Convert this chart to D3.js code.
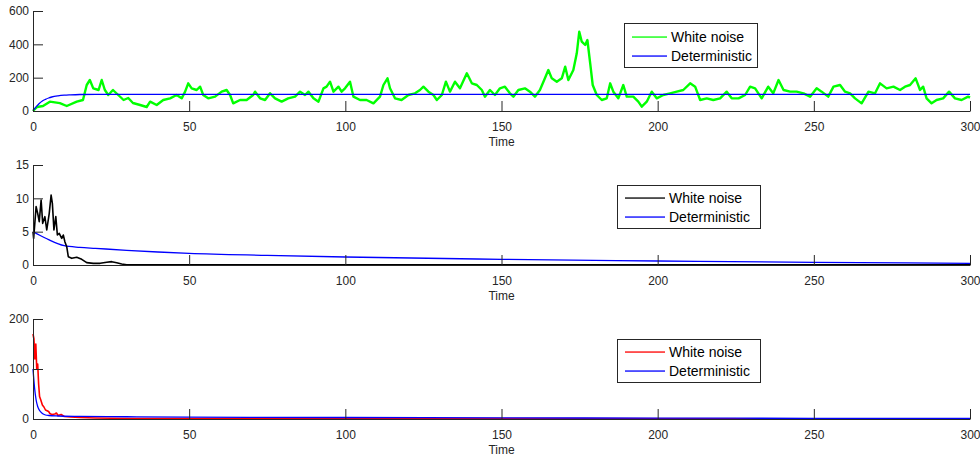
<!DOCTYPE html>
<html><head><meta charset="utf-8">
<script src="https://cdn.jsdelivr.net/npm/d3@7/dist/d3.min.js"></script>
<style>body{margin:0;background:#fff}svg{display:block}text{font-family:"Liberation Sans",Arial,Helvetica,sans-serif}</style>
</head><body><svg id="c" width="980" height="457"></svg>
<script>
const xTicks = [0, 50, 100, 150, 200, 250, 300];
const xLabel = "Time";
const legendLabels = ["White noise", "Deterministic"];

// Panel 1
const p1Ticks = [0, 200, 400, 600];
const p1NoiseT = [0,1.3,3.2,5.4,8.6,10.8,14,16,17.2,18.2,19.3,21,22,23,24.1,25.6,27.3,29,30.5,32,34.3,36.4,37.5,39.6,41.7,43.9,46,47.6,48.7,49.7,50.8,52.4,53.5,54.5,56.1,58.3,60.4,62,63.1,64.1,66.3,68.4,70.5,71.1,72.7,74.3,75.9,77.5,79.6,81.7,83.9,85.5,87.1,88.2,89.8,91.4,93,94,95.1,96.2,97.8,98.8,99.9,101.5,102.6,104.7,106.8,109,111.1,112.2,113.5,114.3,115.9,118,120.2,122.3,123.9,125,126.6,128.2,129.3,130.9,132.2,133.5,135.1,136.7,138.9,140.5,142.1,143.7,144.7,146.3,147.9,149.5,151.1,152.7,153.8,155.4,157.5,159.1,160.7,162.3,163.9,165,166.1,167.7,169.3,170.4,171.4,173,174.1,174.9,175.7,176.8,177.5,178.4,179.2,180.5,182.1,183.7,184.8,185.8,187.4,189,190.1,192.2,193.8,194.9,196.5,198.1,199.7,201.8,204,206.1,208.2,210.4,212,213.6,215.7,217.8,220,222.1,223.7,225.9,228,229.6,231.2,233.3,235.4,237,238.7,240.3,242.4,244.5,246.7,248.8,250.9,252.5,254.6,256.3,258.4,260,261.6,263.2,265.3,267.5,269.6,271.2,273.3,275.5,277.6,279.2,280.8,282.6,284,285,286.1,287.7,289.3,291.4,293.3,295.2,297.3,299.4,300];
const p1NoiseV = [0,24,30,56,47,30,56,66,156,186,136,126,186,126,96,126,96,66,78,48,36,24,56,36,66,76,96,76,116,166,136,126,146,96,76,86,116,126,96,46,66,66,96,116,76,66,106,76,56,76,86,116,96,116,76,56,136,146,176,116,146,116,136,176,86,66,66,46,86,156,196,136,76,66,96,106,126,146,116,96,66,96,176,116,176,136,226,166,156,126,86,126,96,136,146,106,86,126,136,116,86,126,196,246,196,176,196,266,186,246,346,476,416,396,426,286,156,96,66,76,166,116,76,156,86,86,56,26,56,116,76,96,106,116,126,166,146,66,76,66,76,116,76,76,96,146,136,76,146,106,186,126,116,116,106,86,136,116,86,146,156,116,106,76,46,116,106,166,136,146,126,146,156,196,126,146,76,46,66,76,116,76,66,86,80];
const p1DetT = [0,1,2,3,4,5,6,8,10,12,15,20,30,300];
const p1DetV = [3,25,45,60,70,78,84,91,95,97,99,100,100,100];

// Panel 2
const p2Ticks = [0, 5, 10, 15];
const p2NoiseT = [0,0.2,1,1.5,2,2.6,3.1,3.8,4.4,5.2,5.8,6.2,6.7,7.3,7.8,8.4,9.2,9.7,10.2,10.8,11.3,12.4,14,15.6,17.2,19.3,21.5,23.6,25.2,26.8,28.4,30,300];
const p2NoiseV = [5,4,8.75,7.75,6.5,9.75,6.25,7.25,5.25,7.75,10.5,9.25,5.25,7.25,4.5,4.75,4,4.5,3.5,2.75,1.25,1,1.15,0.85,0.35,0.25,0.25,0.4,0.5,0.35,0.15,0.02,0.02];
const p2DetT = [0,2,5,10,15,20,30,40,50,75,100,150,200,250,300];
const p2DetV = [5,4.5,3.8,2.9,2.65,2.5,2.2,1.95,1.75,1.45,1.2,0.85,0.6,0.4,0.25];

// Panel 3
const p3Ticks = [0, 100, 200];
const p3NoiseT = [0,0.3,0.6,0.9,1.2,1.5,1.8,2.1,2.5,3,3.5,4,5,5.4,6,7,7.5,8,9,10,12,15,20,30,300];
const p3NoiseV = [170,160,120,150,100,110,70,45,38,28,24,18,15,11,9,10,12,7,9,5,4,3,2,1,0.5];
const p3DetT = [0,0.5,1,1.5,2,3,4,5,8,15,30,50,100,150,200,250,300];
const p3DetV = [100,62,38,25,18,11,8,7,6,5.2,4.5,3.8,3,2.3,1.8,1.4,1];

const svg = d3.select("#c");
const axisCol = "#262626";
const X0 = 33, X1 = 970;

function panel(cfg) {
  const x = d3.scaleLinear().domain([0, 300]).range([X0, X1]);
  const y = d3.scaleLinear().domain([0, cfg.ymax]).range([cfg.bottom, cfg.top]);
  const g = svg.append("g");
  const det = cfg.detT.map((t, i) => [t, cfg.detV[i]]);
  const noi = cfg.noiseT.map((t, i) => [t, cfg.noiseV[i]]);
  const detLine = d3.line().x(d => x(d[0])).y(d => y(d[1])).curve(d3.curveMonotoneX);
  const noiLine = d3.line().x(d => x(d[0])).y(d => y(d[1]));
  const drawDet = () => g.append("path").datum(det).attr("d", detLine)
    .attr("fill", "none").attr("stroke", "#0000ff").attr("stroke-width", 1.3);
  if (!cfg.detOnTop) drawDet();
  g.append("path").datum(noi).attr("d", noiLine)
    .attr("fill", "none").attr("stroke", cfg.color).attr("stroke-width", cfg.noiseW)
    .attr("stroke-linejoin", "round");
  if (cfg.detOnTop) drawDet();
  // axes
  const ax = g.append("g").attr("transform", `translate(0,${cfg.bottom})`)
    .call(d3.axisBottom(x).tickValues(xTicks).tickSizeInner(-10).tickSizeOuter(0).tickPadding(11));
  const ay = g.append("g").attr("transform", `translate(${X0},0)`)
    .call(d3.axisLeft(y).tickValues(cfg.ticks).tickSizeInner(-10).tickSizeOuter(0).tickPadding(4));
  [ax, ay].forEach(a => {
    a.select(".domain").attr("stroke", axisCol).attr("stroke-width", 1);
    a.selectAll(".tick line").attr("stroke", axisCol);
    a.selectAll(".tick text").attr("fill", axisCol).style("font-size", "12px")
      .style("font-family", '"Liberation Sans",Arial,sans-serif');
  });
  ay.selectAll(".tick text").attr("x", -4);
  g.append("text").attr("x", (X0 + X1) / 2).attr("y", cfg.bottom + 35)
    .attr("text-anchor", "middle").attr("fill", axisCol).style("font-size", "12px").text(xLabel);
  // legend
  const L = cfg.legend;
  g.append("rect").attr("x", L.x + 0.5).attr("y", L.y + 0.5).attr("width", L.w).attr("height", L.h)
    .attr("fill", "#fff").attr("stroke", axisCol).attr("stroke-width", 1);
  const cols = [cfg.color, "#0000ff"];
  legendLabels.forEach((lab, i) => {
    const yy = Math.round(L.y + L.h * (0.31 + 0.43 * i));
    g.append("rect").attr("x", L.x + 8).attr("y", yy - 0.6).attr("width", L.lineW).attr("height", 1.3)
      .attr("fill", cols[i]);
    g.append("text").attr("x", L.x + 12 + L.lineW).attr("y", yy).attr("dy", "0.35em")
      .attr("fill", "#000").style("font-size", L.fs + "px").text(lab);
  });
}

panel({top: 11, bottom: 111, ymax: 600, ticks: p1Ticks, noiseT: p1NoiseT, noiseV: p1NoiseV, detT: p1DetT, detV: p1DetV,
  color: "#00ff00", noiseW: 2.4, detOnTop: true, legend: {x: 624, y: 23, w: 133, h: 44, lineW: 35, fs: 14}});
panel({top: 165, bottom: 265, ymax: 15, ticks: p2Ticks, noiseT: p2NoiseT, noiseV: p2NoiseV, detT: p2DetT, detV: p2DetV,
  color: "#000000", noiseW: 1.6, detOnTop: false, legend: {x: 617, y: 185, w: 143, h: 43, lineW: 40, fs: 14}});
panel({top: 319, bottom: 419, ymax: 200, ticks: p3Ticks, noiseT: p3NoiseT, noiseV: p3NoiseV, detT: p3DetT, detV: p3DetV,
  color: "#ff0000", noiseW: 1.6, detOnTop: true, legend: {x: 617, y: 339, w: 143, h: 43, lineW: 40, fs: 14}});
</script></body></html>
